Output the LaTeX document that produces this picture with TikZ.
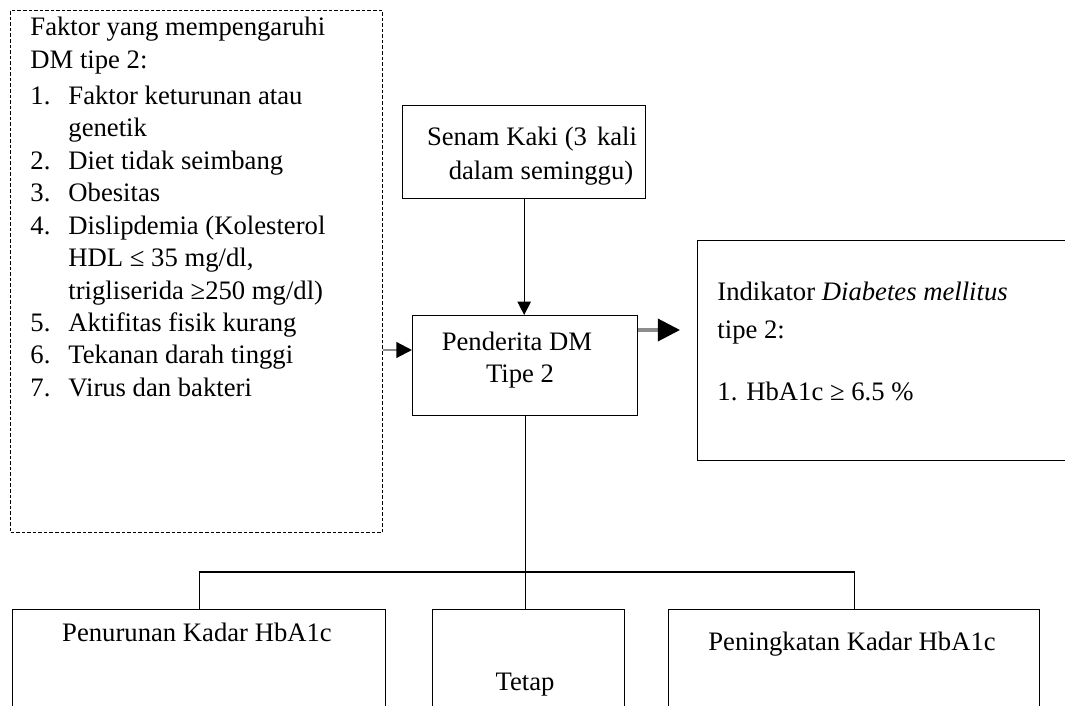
\documentclass[tikz,border=0pt]{standalone}
\usepackage{fontspec}
\setmainfont{Liberation Serif}
\usetikzlibrary{arrows.meta}
\def\pxu{0.45pt}
\tikzset{
  boxnode/.style={draw=black, line width=0.6pt, inner sep=0pt, anchor=north west},
  txt/.style={inner sep=0pt, font=\fontsize{12}{14.6}\selectfont},
  garrow/.style={draw=black!45, line width=1pt, -{Triangle[length=7pt,width=7pt,color=black]}},
  garrowbig/.style={draw=black!45, line width=1.4pt, -{Triangle[length=10pt,width=10pt,color=black]}},
  barrow/.style={draw=black, line width=0.6pt, -{Triangle[length=6pt,width=6pt]}},
  link/.style={draw=black, line width=0.6pt},
}
\begin{document}
\begin{tikzpicture}[x=0.45pt,y=-0.45pt]
\useasboundingbox (0,0) rectangle (1065,706);
\fill[white] (0,0) rectangle (1065,706);
\clip (0,0) rectangle (1065,706);

% boxes
\node[boxnode, dash pattern=on 1.6pt off 0.9pt, line width=0.5pt, minimum width=372*\pxu, minimum height=522*\pxu] (fak) at (10,10) {};
\node[boxnode, minimum width=243*\pxu, minimum height=93*\pxu] (senam) at (402,105) {};
\node[boxnode, minimum width=225*\pxu, minimum height=100*\pxu] (pend) at (412,315) {};
\node[boxnode, minimum width=400*\pxu, minimum height=220*\pxu] (ind) at (697,240) {};
\node[boxnode, minimum width=373*\pxu, minimum height=150*\pxu] (low) at (12,609) {};
\node[boxnode, minimum width=192*\pxu, minimum height=150*\pxu] (mid) at (432,609) {};
\node[boxnode, minimum width=371*\pxu, minimum height=150*\pxu] (high) at (668,609) {};

% texts in dashed box
\node[txt, anchor=base west] (faklist) at (30,36) {%
\begin{tabular}[t]{@{}p{17.1pt}@{}l@{}}
\multicolumn{2}{@{}l@{}}{Faktor yang mempengaruhi}\\
\multicolumn{2}{@{}l@{}}{DM tipe 2:}\\[1.6pt]
1. & Faktor keturunan atau\\
   & genetik\\
2. & Diet tidak seimbang\\
3. & Obesitas\\
4. & Dislipdemia (Kolesterol\\
   & HDL ≤ 35 mg/dl,\\
   & trigliserida ≥250 mg/dl)\\
5. & Aktifitas fisik kurang\\
6. & Tekanan darah tinggi\\
7. & Virus dan bakteri
\end{tabular}};

% other texts
\node[txt, anchor=base] (senamA) at (532,146) {Senam Kaki (3 \hspace{1.5pt}kali};
\node[txt, anchor=base] (senamB) at (541,180) {dalam seminggu)};
\node[txt, anchor=base] (pendA) at (517,350) {Penderita DM};
\node[txt, anchor=base] (pendB) at (520,383) {Tipe 2};
\node[txt, anchor=base west] (indA) at (717,301) {Indikator \textit{Diabetes mellitus}};
\node[txt, anchor=base west] (indB) at (717,338) {tipe 2:};
\node[txt, anchor=base west] (indC) at (717,401) {1. HbA1c ≥ 6.5 \%};
\node[txt, anchor=base] (lowt) at (197,641) {Penurunan Kadar HbA1c};
\node[txt, anchor=base] (midt) at (525,690) {Tetap};
\node[txt, anchor=base] (hight) at (852,650) {Peningkatan Kadar HbA1c};

% connectors
\draw[barrow] (senam.south) -- (senam.south |- pend.north);
\draw[garrow] (fak.east |- 0,350) -- (pend.west |- 0,350);
\coordinate (rtip) at (680,330);
\draw[garrowbig] (pend.east |- rtip) -- (rtip);
\coordinate (bar) at (526,572);
\draw[link] (pend.south) -- (pend.south |- mid.north);
\draw[link] (low.north) -- (low.north |- bar) -- (high.north |- bar) -- (high.north);
\end{tikzpicture}
\end{document}
